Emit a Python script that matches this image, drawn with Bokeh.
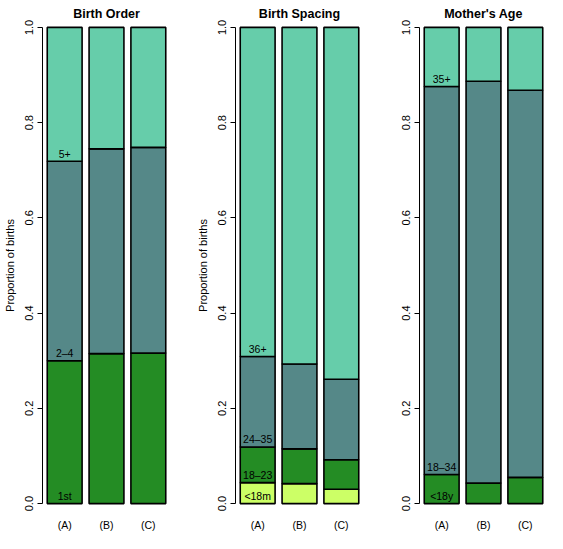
import numpy as np
from bokeh.plotting import figure
from bokeh.layouts import row
from bokeh.models import Range1d, FixedTicker, ColumnDataSource
from bokeh.core.properties import value
from bokeh.embed import file_html
from bokeh.resources import INLINE

# ---------------- data ----------------
groups = ["(A)", "(B)", "(C)"]
yticks = [0.0, 0.2, 0.4, 0.6, 0.8, 1.0]
ytick_labels = ["0.0", "0.2", "0.4", "0.6", "0.8", "1.0"]

order_title = "Birth Order"
order_cats = ["1st", "2\u20134", "5+"]
order_1st = [0.300, 0.315, 0.316]
order_2_4 = [0.419, 0.430, 0.432]
order_5p = [0.281, 0.255, 0.252]

spacing_title = "Birth Spacing"
spacing_cats = ["<18m", "18\u201323", "24\u201335", "36+"]
spacing_lt18 = [0.044, 0.042, 0.030]
spacing_18_23 = [0.075, 0.073, 0.062]
spacing_24_35 = [0.190, 0.178, 0.169]
spacing_36p = [0.691, 0.707, 0.739]

age_title = "Mother's Age"
age_cats = ["<18y", "18\u201334", "35+"]
age_lt18 = [0.061, 0.043, 0.055]
age_18_34 = [0.815, 0.844, 0.813]
age_35p = [0.124, 0.113, 0.132]

GREEN = "#248c24"
GRAY = "#558888"
AQUA = "#66cdaa"
LIGHT = "#ccff66"

FONT = "Liberation Sans"

# bar geometry (R barplot style: width 1, space 0.2)
centers = [0.7 + 1.2 * i for i in range(len(groups))]
XLIM = (0.064, 3.736)


def panel(title, cats, series, colors, width, left, right, ylabel):
    p = figure(width=width, height=533, output_backend="svg", toolbar_location=None,
               x_range=Range1d(*XLIM), y_range=Range1d(-0.004, 1.004),
               min_border_left=left, min_border_right=right,
               min_border_top=24, min_border_bottom=20,
               outline_line_color=None, background_fill_color="white",
               border_fill_color="white")
    p.grid.visible = False
    p.title.text = title
    p.title.align = "center"
    p.title.text_font = FONT
    p.title.text_font_size = "12.5px"
    p.title.text_font_style = "bold"
    p.title.text_color = "black"
    p.title.standoff = 9

    bottom = np.zeros(len(groups))
    label_y = []
    for s, c in zip(series, colors):
        s = np.array(s, dtype=float)
        src = ColumnDataSource(dict(x=centers, bottom=bottom.copy(), top=bottom + s))
        p.vbar(x="x", bottom="bottom", top="top", width=1.0, source=src,
               fill_color=c, line_color="black", line_width=1.6)
        label_y.append(bottom[0] + 0.016)
        bottom = bottom + s
    p.text(x=[centers[0]] * len(cats), y=label_y, text=cats,
           text_align="center", text_baseline="middle",
           text_font=value(FONT), text_font_size="10.5px", text_color="black")

    ya = p.yaxis[0]
    ya.ticker = FixedTicker(ticks=yticks)
    ya.major_label_overrides = {t: l for t, l in zip(yticks, ytick_labels)}
    ya.bounds = (0, 1)
    ya.axis_line_width = 1
    ya.axis_line_color = "black"
    ya.major_tick_line_color = "black"
    ya.major_tick_in = 0
    ya.major_tick_out = 5
    ya.minor_tick_line_color = None
    ya.major_label_orientation = "parallel"
    ya.major_label_standoff = 4
    ya.major_label_text_font = FONT
    ya.major_label_text_font_size = "11px"
    ya.major_label_text_color = "black"
    if ylabel:
        ya.axis_label = ylabel
        ya.axis_label_text_font = FONT
        ya.axis_label_text_font_size = "11px"
        ya.axis_label_text_font_style = "normal"
        ya.axis_label_text_color = "black"
        ya.axis_label_standoff = 7

    xa = p.xaxis[0]
    xa.ticker = FixedTicker(ticks=centers)
    xa.major_label_overrides = {c: g for c, g in zip(centers, groups)}
    xa.axis_line_color = None
    xa.major_tick_line_color = None
    xa.minor_tick_line_color = None
    xa.major_label_standoff = 7
    xa.major_label_text_font = FONT
    xa.major_label_text_font_size = "10.5px"
    xa.major_label_text_color = "black"
    return p


p1 = panel(order_title, order_cats, [order_1st, order_2_4, order_5p],
           [GREEN, GRAY, AQUA], 187, 42, 17, "Proportion of births")
p2 = panel(spacing_title, spacing_cats, [spacing_lt18, spacing_18_23, spacing_24_35, spacing_36p],
           [LIGHT, GREEN, GRAY, AQUA], 186, 48, 10, "Proportion of births")
p3 = panel(age_title, age_cats, [age_lt18, age_18_34, age_35p],
           [GREEN, GRAY, AQUA], 174, 46, 0, None)

layout = row(p1, p2, p3)
open("out.html", "w").write(file_html(layout, INLINE))
